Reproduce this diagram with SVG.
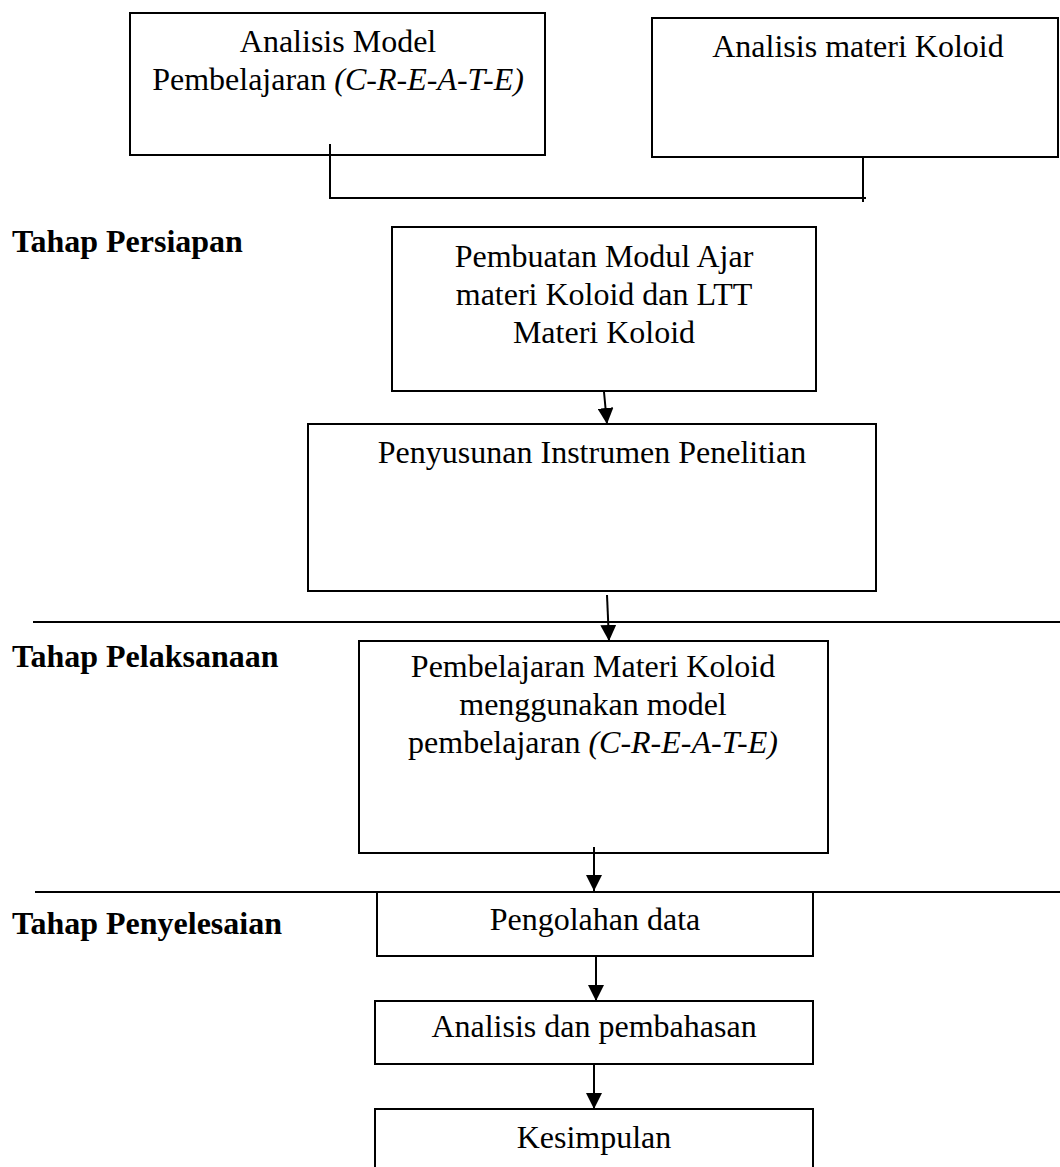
<svg xmlns="http://www.w3.org/2000/svg" width="1060" height="1167" viewBox="0 0 1060 1167">
<defs>
<style>
.box{fill:#fff;stroke:#000;stroke-width:2}
.t{font-family:"Liberation Serif","Times New Roman",serif;font-size:32px;fill:#000;text-anchor:middle}
.lbl{font-family:"Liberation Serif","Times New Roman",serif;font-size:32px;font-weight:bold;fill:#000}
.ln{fill:none;stroke:#000;stroke-width:2}
.it{font-style:italic}
</style>
<marker id="ah" markerUnits="userSpaceOnUse" markerWidth="16" markerHeight="16" viewBox="0 0 16 16" refX="16" refY="8" orient="auto">
<path d="M0,0 L16,8 L0,16 Z" fill="#000"/>
</marker>
</defs>
<rect width="1060" height="1167" fill="#fff"/>

<g id="labels">
<text class="lbl" x="12" y="252">Tahap Persiapan</text>
<text class="lbl" x="12" y="667">Tahap Pelaksanaan</text>
<text class="lbl" x="12" y="934">Tahap Penyelesaian</text>
</g>

<g id="node-analisis-model">
<rect class="box" x="130" y="13" width="415" height="142"/>
<text class="t" x="338" y="52">Analisis Model</text>
<text class="t" x="338" y="90">Pembelajaran <tspan class="it">(C-R-E-A-T-E)</tspan></text>
</g>

<g id="node-analisis-materi">
<rect class="box" x="652" y="18" width="406" height="139"/>
<text class="t" x="858" y="57">Analisis materi Koloid</text>
</g>

<g id="node-pembuatan">
<rect class="box" x="392" y="227" width="424" height="164"/>
<text class="t" x="604" y="267">Pembuatan Modul Ajar</text>
<text class="t" x="604" y="305">materi Koloid dan LTT</text>
<text class="t" x="604" y="343">Materi Koloid</text>
</g>

<g id="node-penyusunan">
<rect class="box" x="308" y="424" width="568" height="167"/>
<text class="t" x="592" y="463">Penyusunan Instrumen Penelitian</text>
</g>

<g id="node-pembelajaran">
<rect class="box" x="359" y="641" width="469" height="212"/>
<text class="t" x="593" y="677">Pembelajaran Materi Koloid</text>
<text class="t" x="593" y="715">menggunakan model</text>
<text class="t" x="593" y="753">pembelajaran <tspan class="it">(C-R-E-A-T-E)</tspan></text>
</g>

<g id="node-pengolahan">
<rect class="box" x="377" y="892" width="436" height="64"/>
<text class="t" x="595" y="930">Pengolahan data</text>
</g>

<g id="node-analisis-pembahasan">
<rect class="box" x="375" y="1001" width="438" height="63"/>
<text class="t" x="594" y="1037">Analisis dan pembahasan</text>
</g>

<g id="node-kesimpulan">
<rect class="box" x="375" y="1109" width="438" height="70"/>
<text class="t" x="594" y="1148">Kesimpulan</text>
</g>

<g id="connectors">
<line class="ln" x1="33" y1="622" x2="1060" y2="622"/>
<line class="ln" x1="35" y1="892" x2="1060" y2="892"/>
<polyline class="ln" points="330,144 330,198 866,198"/>
<line class="ln" x1="863" y1="157" x2="863" y2="202"/>
<line class="ln" x1="604" y1="392" x2="607" y2="424" marker-end="url(#ah)"/>
<line class="ln" x1="607" y1="595" x2="609" y2="641" marker-end="url(#ah)"/>
<line class="ln" x1="594" y1="847" x2="594" y2="891" marker-end="url(#ah)"/>
<line class="ln" x1="596" y1="956" x2="596" y2="1001" marker-end="url(#ah)"/>
<line class="ln" x1="594" y1="1064" x2="594" y2="1109" marker-end="url(#ah)"/>
</g>
</svg>
